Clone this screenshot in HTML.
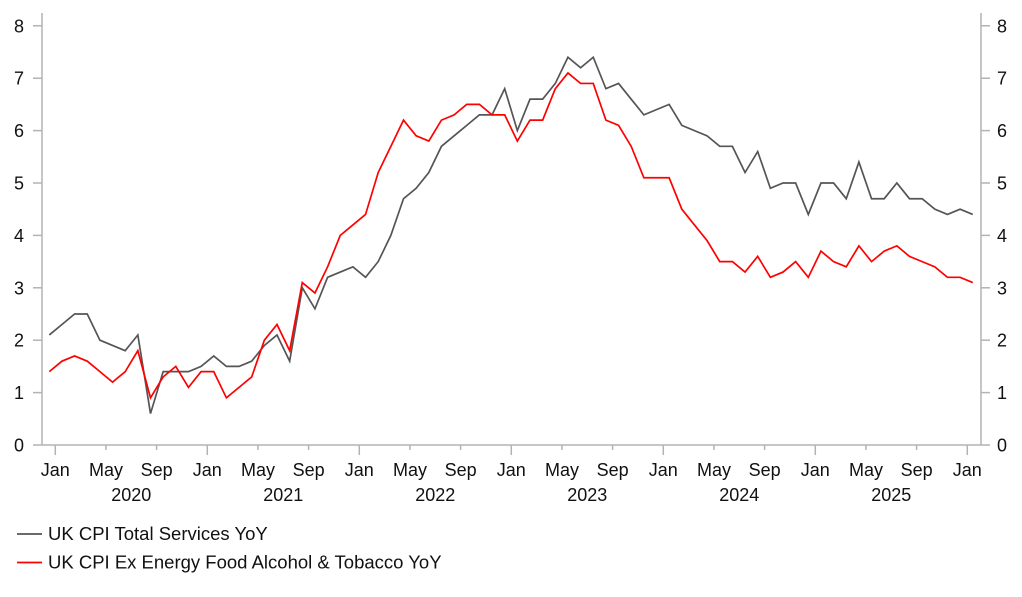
<!DOCTYPE html>
<html><head><meta charset="utf-8"><style>
html,body{margin:0;padding:0;background:#fff;}
svg{display:block;}
text{font-family:"Liberation Sans",Arial,sans-serif;font-size:18px;fill:#111;}
text.lg{font-size:18.5px;}
</style></head><body>
<svg width="1022" height="597" viewBox="0 0 1022 597" xmlns="http://www.w3.org/2000/svg">
<g stroke="#b3b3b3" stroke-width="1.5" fill="none">
<line x1="42" y1="13" x2="42" y2="445.5"/>
<line x1="981" y1="13" x2="981" y2="445.5"/>
<line x1="42" y1="445" x2="981" y2="445"/>
<line x1="33" y1="445" x2="42" y2="445"/><line x1="981" y1="445" x2="990" y2="445"/>
<line x1="33" y1="392.6" x2="42" y2="392.6"/><line x1="981" y1="392.6" x2="990" y2="392.6"/>
<line x1="33" y1="340.2" x2="42" y2="340.2"/><line x1="981" y1="340.2" x2="990" y2="340.2"/>
<line x1="33" y1="287.8" x2="42" y2="287.8"/><line x1="981" y1="287.8" x2="990" y2="287.8"/>
<line x1="33" y1="235.4" x2="42" y2="235.4"/><line x1="981" y1="235.4" x2="990" y2="235.4"/>
<line x1="33" y1="183" x2="42" y2="183"/><line x1="981" y1="183" x2="990" y2="183"/>
<line x1="33" y1="130.6" x2="42" y2="130.6"/><line x1="981" y1="130.6" x2="990" y2="130.6"/>
<line x1="33" y1="78.2" x2="42" y2="78.2"/><line x1="981" y1="78.2" x2="990" y2="78.2"/>
<line x1="33" y1="25.8" x2="42" y2="25.8"/><line x1="981" y1="25.8" x2="990" y2="25.8"/>
<line x1="55.3" y1="445" x2="55.3" y2="455"/>
<line x1="106" y1="445" x2="106" y2="450"/>
<line x1="156.6" y1="445" x2="156.6" y2="450"/>
<line x1="207.3" y1="445" x2="207.3" y2="455"/>
<line x1="258" y1="445" x2="258" y2="450"/>
<line x1="308.6" y1="445" x2="308.6" y2="450"/>
<line x1="359.3" y1="445" x2="359.3" y2="455"/>
<line x1="410" y1="445" x2="410" y2="450"/>
<line x1="460.6" y1="445" x2="460.6" y2="450"/>
<line x1="511.3" y1="445" x2="511.3" y2="455"/>
<line x1="562" y1="445" x2="562" y2="450"/>
<line x1="612.6" y1="445" x2="612.6" y2="450"/>
<line x1="663.3" y1="445" x2="663.3" y2="455"/>
<line x1="714" y1="445" x2="714" y2="450"/>
<line x1="764.6" y1="445" x2="764.6" y2="450"/>
<line x1="815.3" y1="445" x2="815.3" y2="455"/>
<line x1="866" y1="445" x2="866" y2="450"/>
<line x1="916.6" y1="445" x2="916.6" y2="450"/>
<line x1="967.3" y1="445" x2="967.3" y2="455"/>
</g>
<g text-anchor="end">
<text x="24" y="451.5">0</text><text x="24" y="399.1">1</text><text x="24" y="346.7">2</text>
<text x="24" y="294.3">3</text><text x="24" y="241.9">4</text><text x="24" y="189.5">5</text>
<text x="24" y="137.1">6</text><text x="24" y="84.7">7</text><text x="24" y="32.3">8</text>
</g>
<g text-anchor="start">
<text x="997" y="451.5">0</text><text x="997" y="399.1">1</text><text x="997" y="346.7">2</text>
<text x="997" y="294.3">3</text><text x="997" y="241.9">4</text><text x="997" y="189.5">5</text>
<text x="997" y="137.1">6</text><text x="997" y="84.7">7</text><text x="997" y="32.3">8</text>
</g>
<g text-anchor="middle">
<text x="55.3" y="476">Jan</text><text x="106" y="476">May</text><text x="156.6" y="476">Sep</text>
<text x="207.3" y="476">Jan</text><text x="258" y="476">May</text><text x="308.6" y="476">Sep</text>
<text x="359.3" y="476">Jan</text><text x="410" y="476">May</text><text x="460.6" y="476">Sep</text>
<text x="511.3" y="476">Jan</text><text x="562" y="476">May</text><text x="612.6" y="476">Sep</text>
<text x="663.3" y="476">Jan</text><text x="714" y="476">May</text><text x="764.6" y="476">Sep</text>
<text x="815.3" y="476">Jan</text><text x="866" y="476">May</text><text x="916.6" y="476">Sep</text>
<text x="967.3" y="476">Jan</text>
<text x="131.3" y="501">2020</text><text x="283.3" y="501">2021</text><text x="435.3" y="501">2022</text>
<text x="587.3" y="501">2023</text><text x="739.3" y="501">2024</text><text x="891.3" y="501">2025</text>
</g>
<g transform="translate(49.3,445) scale(12.65,-52.4)" fill="none" stroke-linejoin="miter">
<polyline vector-effect="non-scaling-stroke" stroke="#555555" stroke-width="1.7" points="0,2.1 1,2.3 2,2.5 3,2.5 4,2.0 5,1.9 6,1.8 7,2.1 8,0.6 9,1.4 10,1.4 11,1.4 12,1.5 13,1.7 14,1.5 15,1.5 16,1.6 17,1.9 18,2.1 19,1.6 20,3.0 21,2.6 22,3.2 23,3.3 24,3.4 25,3.2 26,3.5 27,4.0 28,4.7 29,4.9 30,5.2 31,5.7 32,5.9 33,6.1 34,6.3 35,6.3 36,6.8 37,6.0 38,6.6 39,6.6 40,6.9 41,7.4 42,7.2 43,7.4 44,6.8 45,6.9 46,6.6 47,6.3 48,6.4 49,6.5 50,6.1 51,6.0 52,5.9 53,5.7 54,5.7 55,5.2 56,5.6 57,4.9 58,5.0 59,5.0 60,4.4 61,5.0 62,5.0 63,4.7 64,5.4 65,4.7 66,4.7 67,5.0 68,4.7 69,4.7 70,4.5 71,4.4 72,4.5 73,4.4"/>
<polyline vector-effect="non-scaling-stroke" stroke="#ff0000" stroke-width="1.7" points="0,1.4 1,1.6 2,1.7 3,1.6 4,1.4 5,1.2 6,1.4 7,1.8 8,0.9 9,1.3 10,1.5 11,1.1 12,1.4 13,1.4 14,0.9 15,1.1 16,1.3 17,2.0 18,2.3 19,1.8 20,3.1 21,2.9 22,3.4 23,4.0 24,4.2 25,4.4 26,5.2 27,5.7 28,6.2 29,5.9 30,5.8 31,6.2 32,6.3 33,6.5 34,6.5 35,6.3 36,6.3 37,5.8 38,6.2 39,6.2 40,6.8 41,7.1 42,6.9 43,6.9 44,6.2 45,6.1 46,5.7 47,5.1 48,5.1 49,5.1 50,4.5 51,4.2 52,3.9 53,3.5 54,3.5 55,3.3 56,3.6 57,3.2 58,3.3 59,3.5 60,3.2 61,3.7 62,3.5 63,3.4 64,3.8 65,3.5 66,3.7 67,3.8 68,3.6 69,3.5 70,3.4 71,3.2 72,3.2 73,3.1"/>
</g>
<line x1="17" y1="534" x2="42" y2="534" stroke="#555555" stroke-width="1.7"/>
<line x1="17" y1="562.5" x2="42" y2="562.5" stroke="#ff0000" stroke-width="1.7"/>
<text class="lg" x="48" y="540">UK CPI Total Services YoY</text>
<text class="lg" x="48" y="568.5">UK CPI Ex Energy Food Alcohol &amp; Tobacco YoY</text>
</svg>
</body></html>
